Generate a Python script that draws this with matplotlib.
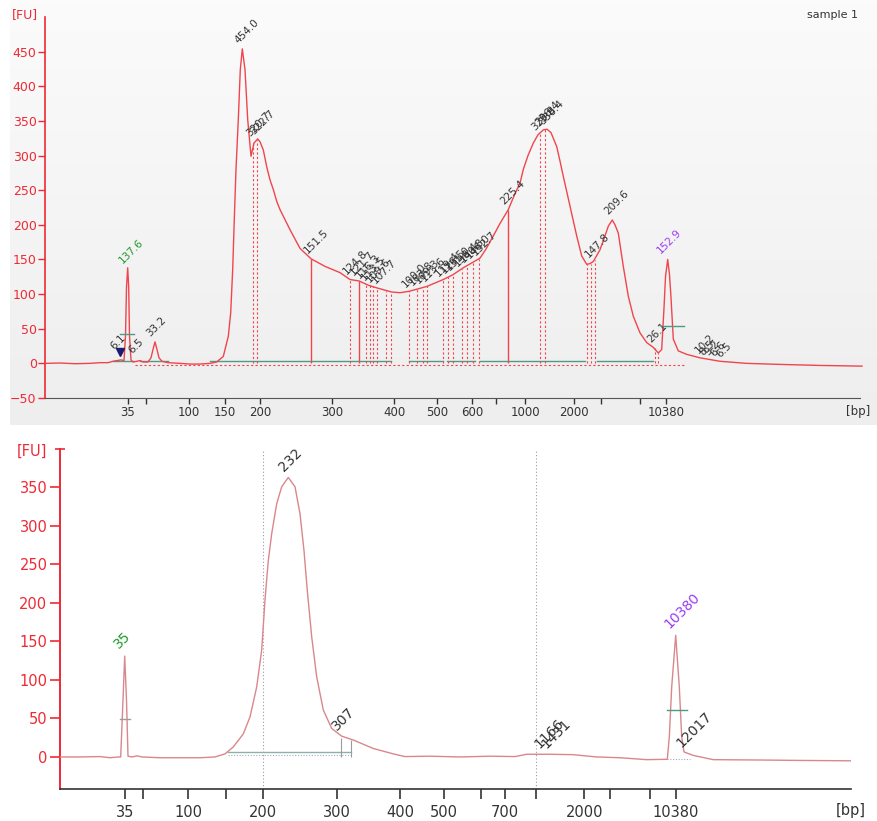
import numpy as np
import matplotlib
matplotlib.use("Agg")
import matplotlib.pyplot as plt

# ---------------- DATA ----------------
# Top electropherogram (x = migration position units, y = fluorescence units)
top_x = [45, 60, 75, 90, 100, 108, 113, 117, 121, 124, 125.5, 126.5, 127.7, 128.7, 129.5, 131, 133, 137, 140, 143,
         148, 151, 153, 155, 157, 159, 162, 168, 180, 190, 200, 210, 216.7, 223.3, 228.3, 230.7, 232.7, 234.3, 236,
         238.3, 240.3, 242.3, 245, 247.7, 251, 254, 257.7, 260, 263.3, 267, 270, 273.3, 276.7, 280, 290, 300, 311,
         325, 340, 350, 359, 368, 376.7, 391.7, 400, 409, 416.7, 426.7, 443.3, 453, 463.3, 473, 480, 486, 493.3,
         500, 508.3, 515, 520, 523.3, 528, 533.3, 538, 543.3, 547, 551, 556.7, 560, 563.3, 570, 576.7, 581.7,
         586.7, 590, 593.3, 600, 604, 608.3, 612.3, 615, 618.3, 623.3, 628.3, 633.3, 640, 646.7, 653.3, 658.3,
         661.7, 664, 665.5, 667.7, 669.5, 671, 673.3, 678.3, 686.7, 700, 720, 746.7, 780, 820, 862]
top_fu = [0, 0.5, -0.5, 0, 1, 1, 3, 4, 5, 4, 40, 110, 138, 110, 40, 5, 2, 3, 4, 2,
          2, 8, 20, 31, 20, 8, 3, 1, 0, -1, -1, 0, 2, 10, 39, 73, 136, 208, 280,
          352, 424, 454, 424, 352, 299, 318, 324, 320, 308, 282, 265, 251, 234, 222, 193, 166, 151,
          140, 131, 121, 119, 113, 109, 103, 102, 104, 107, 111, 121, 128, 138, 146, 152, 165, 184,
          202, 222, 245, 260, 280, 300, 318, 330, 337, 338, 333, 313, 292, 270, 227, 184, 155,
          143, 144, 147, 164, 180, 198, 207, 200, 188, 140, 97, 68, 44, 30, 23, 15,
          20, 80, 125, 150, 128, 95, 35, 18, 13, 8, 3, 0, -1.5, -3, -4]

top_tick_pos = [128, 146, 189, 225, 260, 332, 394, 437, 472, 496, 525, 574, 601, 640, 666]
top_tick_lab = ["35", "", "100", "150", "200", "300", "400", "500", "600", "", "1000", "2000", "", "", "10380"]
top_yticks = [-50, 0, 50, 100, 150, 200, 250, 300, 350, 400, 450]

top_lab_x = [116, 134, 152, 240, 252, 256, 309, 348, 355, 361, 366, 371, 377, 407, 414, 420, 426, 440, 446, 451,
             459, 465, 471, 477, 506, 537, 541, 545, 590, 610, 653, 700, 705, 710, 716, 722]
top_lab_fu = [14, 8, 33, 456, 322, 325, 153, 123, 121, 117, 114, 111, 109, 104, 106, 109, 112, 119, 124, 128,
              134, 140, 145, 150, 224, 330, 338, 339, 147, 209, 24, 8, 6, 5, 4, 3]
top_lab_txt = ["6.1", "6.5", "33.2", "454.0", "320.7", "322.7", "151.5", "124.8", "121.7", "116.3", "113.5",
               "109.6", "107.7", "100.0", "103.8", "109.3", "113.6", "119.4", "126.5", "131.0", "136.4", "140.8",
               "146.0", "152.7", "225.4", "329.8", "336.4", "338.4", "147.8", "209.6", "26.1", "10.2", "8.5",
               "9.2", "6.6", "6.5"]
ladder_top = {"low": (127.7, 138, "137.6"), "high": (665.5, 152, "152.9")}

top_solid_x = [311, 359, 508.3]
top_solid_fu = [151, 119, 222]
top_dash_x = [253, 257, 350, 366, 370, 373, 377, 386, 391, 409, 417, 423, 427, 443, 448, 453, 462, 467, 473, 479,
              540, 545, 587, 591, 595, 655, 658]
top_dash_fu = [318, 322, 121, 116, 113, 112, 109, 104, 103, 104, 107, 109, 111, 121, 125, 128, 136, 141, 146, 151,
               333, 338, 143, 144, 149, 22, 15]
top_green_segs = [(113, 133), (140, 168), (210, 391), (409, 443), (447, 475), (480, 585), (597, 653)]

# Bottom electropherogram
bot_x = [60, 80, 100, 110, 118, 120.7, 123, 124.7, 126.5, 128, 132, 137, 142, 160, 180, 200, 215, 225, 233.3,
         243.3, 250, 256.7, 261.7, 265, 268.3, 271.7, 276.7, 281.7, 288.3, 295, 300, 304, 307.3, 311.7, 316.7,
         323.3, 331.7, 341.7, 353.3, 373.3, 393.3, 405, 430, 460, 490, 515, 526.7, 550, 573, 596.7, 620,
         646.7, 667.3, 669.3, 671.7, 675.7, 679.3, 681.7, 684, 693.3, 713.3, 763.3, 800, 850.7]
bot_fu = [0, 0, 0.5, -1, 0, 0, 74, 131, 74, 1, 0, 1.5, 0, -1, -1, -1, 0, 4, 13,
          30, 52, 91, 139, 204, 255, 290, 329, 351, 363, 351, 316, 268, 216, 156, 104,
          61, 37, 27, 22, 11, 4, 0.5, 1, 0, 1, 0.5, 3.5, 3.5, 3, 0, -1,
          -3.5, -3, 26, 91, 158, 91, 26, 6.5, 2, -3.5, -4, -4.5, -5]

bot_tick_pos = [125, 143.3, 188.3, 226, 263.3, 336.7, 400, 444, 481, 505, 535.7, 584.3, 610, 650, 675.7]
bot_tick_lab = ["35", "", "100", "", "200", "300", "400", "500", "", "700", "", "2000", "", "", "10380"]
bot_yticks = [0, 50, 100, 150, 200, 250, 300, 350]

bot_lab_x = [286, 339, 542, 549, 684]
bot_lab_fu = [365, 28, 4, 4, 6]
bot_lab_txt = ["232", "307", "1166", "1431", "12017"]
ladder_bot = {"low": (124.7, 133, "35"), "high": (675.7, 160, "10380")}
bot_markers_x = [263.3, 535.7]

# ---------------- STYLE ----------------
RED = "#ee2a35"
TRACE_TOP = "#f0454d"
TRACE_BOT = "#d9878c"
GREEN = "#1f9a2a"
PURPLE = "#9a3cf0"
TEAL = "#4f9a86"
DARK = "#333333"

W, H = 877, 821
fig = plt.figure(figsize=(W / 100, H / 100), dpi=100)
fig.patch.set_facecolor("white")

def fx(px):
    return px / W

def fy(py):
    return 1 - py / H

# top panel background gradient
bg = fig.add_axes([fx(10), fy(425), fx(867), 425 / H], zorder=0)
grad = np.linspace(0, 1, 100).reshape(-1, 1)
from matplotlib.colors import LinearSegmentedColormap
cm = LinearSegmentedColormap.from_list("g", ["#fbfbfb", "#eeeeee"])
bg.imshow(grad, aspect="auto", cmap=cm, extent=[0, 1, 0, 1], origin="upper")
bg.axis("off")

# ---------- top axes ----------
ax1 = fig.add_axes([fx(45), fy(398), fx(866 - 45), (398 - 17) / H], zorder=1)
ax1.set_facecolor("none")
ax1.set_xlim(45, 866)
ax1.set_ylim(-50, 500)
ax1.plot(top_x, top_fu, color=TRACE_TOP, lw=1.0, zorder=5)

for x0, x1 in top_green_segs:
    ax1.plot([x0, x1], [3, 3], color=TEAL, lw=1.0, zorder=3)
ax1.plot([135, 685], [-2, -2], color=TRACE_TOP, lw=0.8, ls=(0, (2, 2)), zorder=3)
ax1.vlines(top_solid_x, 0, top_solid_fu, color=TRACE_TOP, lw=1.0, zorder=4)
ax1.vlines(top_dash_x, 0, top_dash_fu, color=TRACE_TOP, lw=0.8, linestyles=(0, (2, 2)), zorder=4)
# half-height markers on ladder peaks
ax1.plot([120, 134], [43, 43], color=TEAL, lw=1.0, zorder=6)
ax1.plot([662, 684], [54, 54], color=TEAL, lw=1.0, zorder=6)
ax1.plot([120], [16], marker="v", color="#1c1c6e", ms=6, zorder=7)

for x, y, t in zip(top_lab_x, top_lab_fu, top_lab_txt):
    ax1.text(x, y + 3, t, rotation=45, rotation_mode="anchor", ha="left", va="bottom",
             fontsize=7.5, color=DARK, zorder=8)
lx, ly, lt = ladder_top["low"]
ax1.text(lx - 3, ly + 4, lt, rotation=45, rotation_mode="anchor", ha="left", va="bottom",
         fontsize=7.5, color=GREEN, zorder=8)
lx, ly, lt = ladder_top["high"]
ax1.text(lx - 3, ly + 4, lt, rotation=45, rotation_mode="anchor", ha="left", va="bottom",
         fontsize=7.5, color=PURPLE, zorder=8)

ax1.set_xticks(top_tick_pos)
ax1.set_xticklabels(top_tick_lab)
ax1.set_yticks(top_yticks)
ax1.tick_params(axis="y", colors=RED, labelsize=9, length=5, width=1, pad=1)
ax1.tick_params(axis="x", colors=DARK, labelcolor=DARK, labelsize=8.5, length=4, width=1, pad=2)
for s in ["top", "right"]:
    ax1.spines[s].set_visible(False)
ax1.spines["left"].set_color(RED)
ax1.spines["left"].set_linewidth(1.2)
ax1.spines["bottom"].set_color("#555555")
ax1.spines["bottom"].set_bounds(45, 860)
fig.text(fx(12), fy(15), "[FU]", color=RED, fontsize=9, ha="left", va="center")
fig.text(fx(870), fy(411), "[bp]", color=DARK, fontsize=8.5, ha="right", va="center")
fig.text(fx(858), fy(15), "sample 1", color=DARK, fontsize=8, ha="right", va="center")

# ---------- bottom axes ----------
ax2 = fig.add_axes([fx(60), fy(789.3), fx(851 - 60), (789.3 - 449) / H], zorder=1)
ax2.set_facecolor("none")
ax2.set_xlim(60, 851)
ax2.set_ylim(-42, 400)
for xm in bot_markers_x:
    ax2.axvline(xm, color="#9a9aa8", lw=0.8, ls=(0, (1, 2)), zorder=2)
ax2.plot(bot_x, bot_fu, color=TRACE_BOT, lw=1.0, zorder=5)
# integration box / half-height markers
ax2.plot([228, 351], [6, 6], color="#8fb0a8", lw=1.0, zorder=3)
ax2.plot([228, 351], [2, 2], color="#a8a8b8", lw=0.8, ls=(0, (1, 1.5)), zorder=3)
ax2.vlines([341, 351], 0, [25, 22], color="#9a9aa0", lw=0.8, zorder=3)
ax2.plot([120, 130], [49, 49], color="#a09a9a", lw=1.0, zorder=6)
ax2.plot([667, 687], [61, 61], color=TEAL, lw=1.0, zorder=6)
ax2.plot([667, 690], [-3, -3], color="#a8a8b8", lw=0.8, ls=(0, (1, 1.5)), zorder=3)

for x, y, t in zip(bot_lab_x, bot_lab_fu, bot_lab_txt):
    ax2.text(x, y + 3, t, rotation=45, rotation_mode="anchor", ha="left", va="bottom",
             fontsize=10, color=DARK, zorder=8)
lx, ly, lt = ladder_bot["low"]
ax2.text(lx - 4, ly + 4, lt, rotation=45, rotation_mode="anchor", ha="left", va="bottom",
         fontsize=10, color=GREEN, zorder=8)
lx, ly, lt = ladder_bot["high"]
ax2.text(lx - 4, ly + 4, lt, rotation=45, rotation_mode="anchor", ha="left", va="bottom",
         fontsize=10, color=PURPLE, zorder=8)

ax2.set_xticks(bot_tick_pos)
ax2.set_xticklabels(bot_tick_lab)
ax2.set_yticks(bot_yticks)
ax2.tick_params(axis="y", colors=RED, labelsize=10.5, length=7, width=1.2, pad=2)
ax2.tick_params(axis="x", colors=DARK, labelcolor=DARK, labelsize=10.5, length=7, width=1.2, pad=4)
for s in ["top", "right"]:
    ax2.spines[s].set_visible(False)
ax2.spines["left"].set_color(RED)
ax2.spines["left"].set_linewidth(1.4)
ax2.spines["bottom"].set_color("#333333")
ax2.spines["bottom"].set_linewidth(1.2)
fig.text(fx(47), fy(451), "[FU]", color=RED, fontsize=10.5, ha="right", va="center")
fig.text(fx(866), fy(810), "[bp]", color=DARK, fontsize=10.5, ha="right", va="center")

# red tick for [FU] at top of bottom y-axis
ax2.plot([60], [400], marker="_", color=RED, ms=7, mew=1.2, clip_on=False)

fig.savefig("out.png", dpi=100)
